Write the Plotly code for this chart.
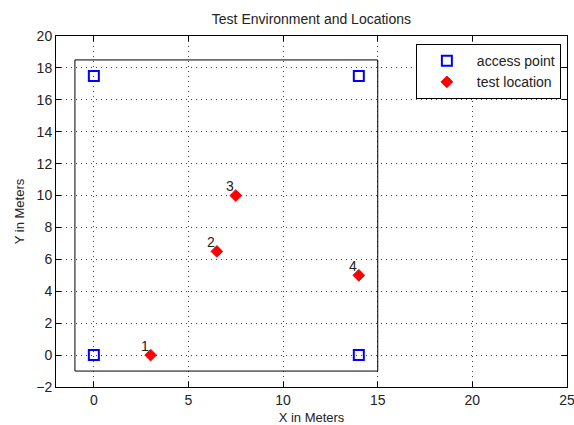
import plotly.graph_objects as go

# Access point positions (meters)
ap_x = [0, 0, 14, 14]
ap_y = [0, 17.5, 0, 17.5]

# Test locations (meters) and their labels
loc_x = [3, 6.5, 7.5, 14]
loc_y = [0, 6.5, 10, 5]
loc_labels = ["1", "2", "3", "4"]

# Room outline corners
room_x = [-1, 15, 15, -1, -1]
room_y = [-1, -1, 18.5, 18.5, -1]

x_ticks = [0, 5, 10, 15, 20, 25]
y_ticks = [-2, 0, 2, 4, 6, 8, 10, 12, 14, 16, 18, 20]

FONT = "Liberation Sans, Arial, sans-serif"

fig = go.Figure()

fig.add_trace(go.Scatter(
    x=room_x, y=room_y, mode="lines",
    line=dict(color="black", width=1),
    showlegend=False, hoverinfo="skip",
))

fig.add_trace(go.Scatter(
    x=ap_x, y=ap_y, mode="markers", name="access point",
    marker=dict(symbol="square-open", size=10, color="#0000ff",
                line=dict(width=2, color="#0000ff")),
))

fig.add_trace(go.Scatter(
    x=loc_x, y=loc_y, mode="markers", name="test location",
    marker=dict(symbol="diamond", size=9, color="#ff0000",
                line=dict(width=1, color="#ff0000")),
))

for lx, ly, lab in zip(loc_x, loc_y, loc_labels):
    fig.add_annotation(
        x=lx - 0.3, y=ly + 0.6, text=lab, showarrow=False,
        xanchor="center", yanchor="middle",
        font=dict(family=FONT, size=14, color="#222"),
    )

axis_common = dict(
    showline=True, linecolor="black", linewidth=1, mirror="ticks",
    ticks="inside", ticklen=5, tickcolor="black",
    showgrid=True, gridcolor="#444", gridwidth=1, griddash="1px,4px",
    zeroline=False, automargin=False, ticklabeloverflow="allow",
    tickfont=dict(family=FONT, size=14, color="#222"),
)

fig.update_xaxes(
    range=[-2, 25], tickvals=x_ticks,
    title=dict(text="X in Meters", font=dict(family=FONT, size=13, color="#222"), standoff=6),
    **axis_common,
)
fig.update_yaxes(
    range=[-2, 20], tickvals=y_ticks,
    title=dict(text="Y in Meters", font=dict(family=FONT, size=13, color="#222"), standoff=8),
    **axis_common,
)

fig.update_layout(
    width=574, height=425,
    margin=dict(l=56, r=7, t=36, b=38),
    paper_bgcolor="white", plot_bgcolor="white",
    title=dict(text="Test Environment and Locations", x=0.5426, xanchor="center",
               y=0.955, yanchor="middle",
               font=dict(family=FONT, size=14, color="#222")),
    legend=dict(
        x=0.988, y=0.977, xanchor="right", yanchor="top",
        bordercolor="black", borderwidth=1, bgcolor="white",
        font=dict(family=FONT, size=14, color="#222"),
        itemwidth=50, tracegroupgap=0,
    ),
    showlegend=True,
)

fig.write_html("out.html")
